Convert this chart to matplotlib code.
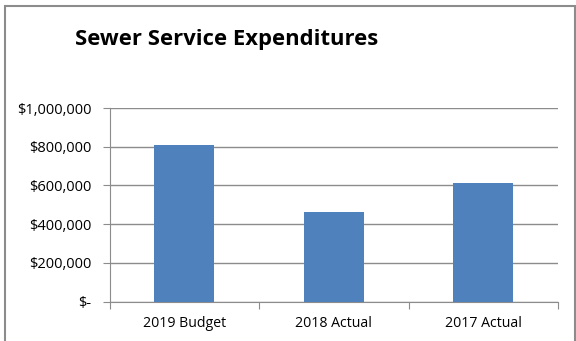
import numpy as np
import matplotlib.pyplot as plt
from matplotlib.patches import Rectangle
from matplotlib.ticker import FuncFormatter

plt.rcParams['font.family'] = ['Open Sans', 'DejaVu Sans']

# categories and values
categories = ['2019 Budget', '2018 Actual', '2017 Actual']
expenditures = np.array([807000, 461000, 614000])

fig = plt.figure(figsize=(5.76, 3.41), dpi=100)
ax = fig.add_axes([109.5 / 576, 1 - 301.7 / 341, (558 - 109.5) / 576, (301.7 - 108) / 341])

# outer chart border (bottom edge is cut off in the original)
fig.patches.append(Rectangle((4.5 / 576, -0.05), (575 - 4.5) / 576, 1.05 - 5.5 / 341,
                             transform=fig.transFigure, fill=False,
                             edgecolor='#8c8c8c', linewidth=1.5))

x = np.arange(len(categories))
ax.bar(x, expenditures, width=0.4, color='#4F81BD', zorder=3)

ax.set_xlim(-0.5, len(categories) - 0.5)
ax.set_ylim(0, 1000000)
ax.set_yticks(np.arange(0, 1000001, 200000))


def money(v, pos):
    if v == 0:
        return '$-'
    return '${:,.0f}'.format(v)


ax.yaxis.set_major_formatter(FuncFormatter(money))
ax.grid(axis='y', color='#8c8c8c', linewidth=1, zorder=0)

# x ticks sit between categories
ax.set_xticks(np.arange(-0.5, len(categories), 1.0))
ax.set_xticklabels([])
ax.set_xticks(x, minor=True)
ax.set_xticklabels(categories, minor=True)
ax.tick_params(axis='x', which='minor', length=0, pad=10, labelsize=10.2)
ax.tick_params(axis='x', which='major', length=5, color='#8c8c8c')
ax.tick_params(axis='y', length=5, color='#8c8c8c', labelsize=10.5, pad=8)

for s in ['top', 'right']:
    ax.spines[s].set_visible(False)
for s in ['left', 'bottom']:
    ax.spines[s].set_color('#8c8c8c')

fig.text(75 / 576, 1 - 39 / 341, 'Sewer Service Expenditures', fontsize=15.8,
         fontweight='bold', ha='left', va='center')

fig.savefig('out.png', dpi=100)
